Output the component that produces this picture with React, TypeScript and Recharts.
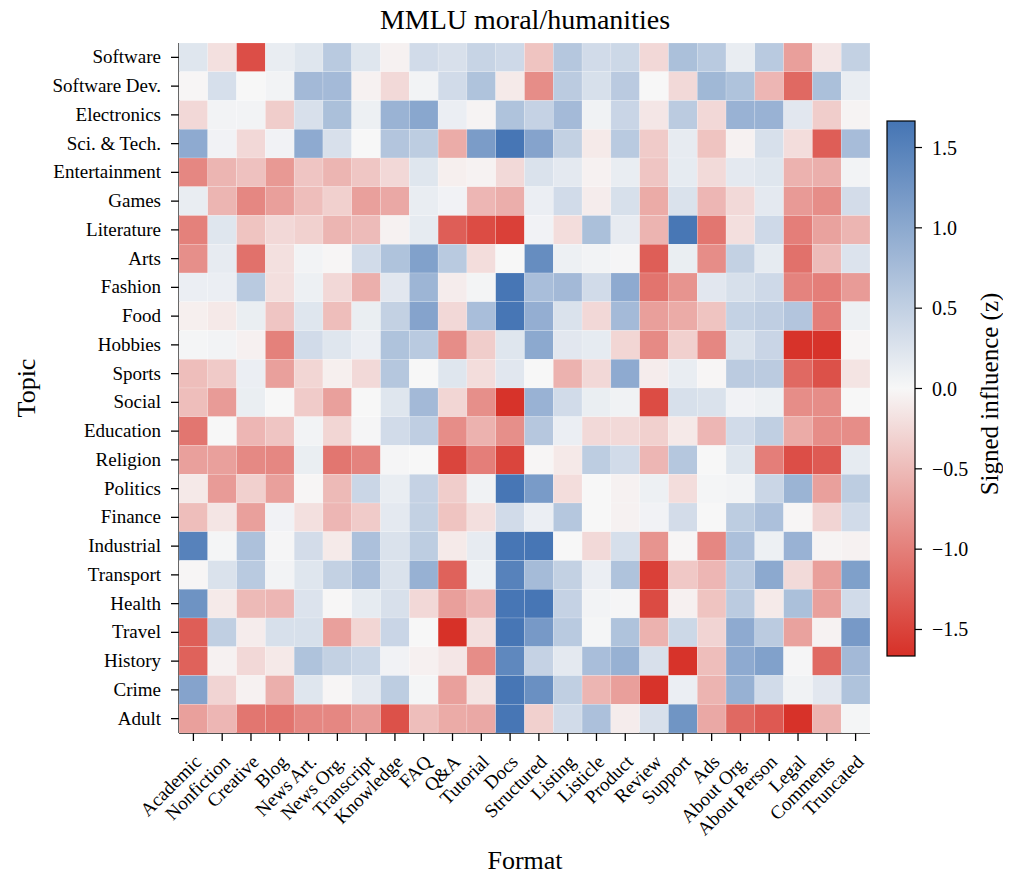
import { ScatterChart, Scatter, XAxis, YAxis } from "recharts";

const formats = [
  "Academic", "Nonfiction", "Creative", "Blog", "News Art.", "News Org.",
  "Transcript", "Knowledge", "FAQ", "Q&A", "Tutorial", "Docs", "Structured",
  "Listing", "Listicle", "Product", "Review", "Support", "Ads", "About Org.",
  "About Person", "Legal", "Comments", "Truncated",
];

const topics = [
  "Software", "Software Dev.", "Electronics", "Sci. & Tech.", "Entertainment",
  "Games", "Literature", "Arts", "Fashion", "Food", "Hobbies", "Sports",
  "Social", "Education", "Religion", "Politics", "Finance", "Industrial",
  "Transport", "Health", "Travel", "History", "Crime", "Adult",
];

// signed influence (z), one array per topic, in the order of `formats`
const software = [0.22, -0.19, -1.41, 0.13, 0.22, 0.58, 0.22, -0.05, 0.36, 0.29, 0.45, 0.38, -0.43, 0.62, 0.36, 0.4, -0.26, 0.71, 0.58, 0.13, 0.58, -0.74, -0.14, 0.49];
const softwareDev = [-0.02, 0.31, 0.0, 0.05, 0.79, 0.78, -0.05, -0.25, 0.05, 0.36, 0.67, -0.11, -0.89, 0.56, 0.3, 0.57, 0.0, -0.25, 0.81, 0.67, -0.54, -1.19, 0.71, 0.13];
const electronics = [-0.26, 0.05, 0.05, -0.35, 0.29, 0.71, 0.09, 0.87, 1.03, 0.11, -0.03, 0.67, 0.47, 0.78, 0.07, 0.43, -0.14, 0.56, -0.26, 0.88, 0.88, 0.2, -0.35, -0.03];
const sciTech = [0.98, 0.06, -0.26, 0.06, 0.98, 0.29, 0.0, 0.64, 0.54, -0.63, 1.16, 1.65, 1.07, 0.49, -0.11, 0.58, -0.37, 0.15, -0.43, -0.05, 0.3, -0.22, -1.28, 0.75];
const entertainment = [-0.94, -0.55, -0.45, -0.79, -0.42, -0.55, -0.41, -0.26, 0.22, -0.07, -0.04, -0.25, 0.27, 0.18, -0.05, 0.13, -0.42, 0.16, -0.24, 0.18, 0.22, -0.58, -0.6, 0.05];
const games = [0.13, -0.55, -0.94, -0.74, -0.48, -0.33, -0.73, -0.66, 0.13, 0.06, -0.54, -0.61, 0.11, 0.36, -0.09, 0.3, -0.64, 0.27, -0.54, -0.25, 0.18, -0.78, -0.89, 0.34];
const literature = [-0.99, 0.22, -0.43, -0.26, -0.32, -0.55, -0.5, -0.05, 0.16, -1.28, -1.43, -1.53, 0.06, -0.22, 0.71, 0.15, -0.56, 1.64, -1.08, -0.2, 0.38, -1.01, -0.71, -0.55];
const arts = [-0.87, 0.15, -1.12, -0.19, 0.05, -0.02, 0.36, 0.67, 1.1, 0.58, -0.22, 0.0, 1.36, 0.09, 0.05, 0.02, -1.28, 0.12, -0.89, 0.49, 0.16, -1.12, -0.5, 0.25];
const fashion = [0.11, 0.11, 0.58, -0.2, 0.09, -0.26, -0.6, 0.2, 0.84, -0.09, 0.04, 1.65, 0.73, 0.79, 0.36, 0.98, -1.1, -0.83, 0.2, 0.3, 0.38, -0.97, -1.01, -0.77];
const food = [-0.07, -0.12, 0.12, -0.42, 0.22, -0.48, 0.12, 0.49, 1.07, -0.26, 0.73, 1.65, 0.93, 0.27, -0.26, 0.78, -0.74, -0.64, -0.43, 0.48, 0.52, 0.64, -1.01, 0.09];
const hobbies = [0.03, 0.05, -0.06, -0.99, 0.36, 0.22, 0.11, 0.67, 0.58, -0.89, -0.35, 0.22, 1.0, 0.2, 0.16, -0.28, -0.91, -0.33, -0.94, 0.27, 0.43, -1.64, -1.64, -0.02];
const sports = [-0.48, -0.38, 0.11, -0.73, -0.28, -0.07, -0.25, 0.62, 0.0, 0.22, -0.22, 0.21, 0.0, -0.58, -0.26, 0.98, -0.09, 0.13, -0.02, 0.56, 0.56, -1.19, -1.39, -0.16];
const social = [-0.48, -0.77, 0.12, 0.0, -0.37, -0.73, 0.0, 0.22, 0.79, -0.28, -0.87, -1.64, 0.88, 0.36, 0.12, 0.07, -1.43, 0.3, 0.27, 0.06, 0.09, -0.89, -0.89, 0.0];
const education = [-1.08, 0.0, -0.54, -0.42, 0.05, -0.28, 0.02, 0.36, 0.52, -0.89, -0.58, -0.87, 0.61, 0.11, -0.25, -0.25, -0.33, -0.12, -0.54, 0.36, 0.51, -0.64, -0.89, -0.89];
const religion = [-0.73, -0.73, -0.92, -0.94, 0.12, -1.08, -0.97, 0.02, 0.0, -1.49, -1.01, -1.49, -0.02, -0.12, 0.54, 0.36, -0.54, 0.62, 0.0, 0.22, -1.01, -1.41, -1.31, 0.16];
const politics = [-0.12, -0.77, -0.33, -0.73, -0.02, -0.51, 0.42, 0.13, 0.47, -0.35, 0.07, 1.65, 1.18, -0.22, 0.0, -0.05, 0.09, -0.22, 0.03, 0.05, 0.42, 0.86, -0.73, 0.54];
const finance = [-0.48, -0.15, -0.73, 0.06, -0.19, -0.54, -0.37, 0.18, 0.49, -0.43, -0.2, 0.36, 0.11, 0.62, 0.0, -0.05, 0.06, 0.34, 0.0, 0.54, 0.7, -0.02, -0.29, 0.36];
const industrial = [1.5, 0.03, 0.69, 0.02, 0.34, -0.11, 0.7, 0.27, 0.54, -0.11, 0.15, 1.65, 1.65, 0.0, -0.25, 0.31, -0.83, -0.02, -0.94, 0.7, 0.09, 0.88, -0.03, -0.05];
const transport = [-0.02, 0.27, 0.58, 0.05, 0.22, 0.49, 0.73, 0.27, 0.9, -1.25, 0.08, 1.5, 0.77, 0.49, 0.11, 0.67, -1.53, -0.39, -0.54, 0.56, 1.0, -0.24, -0.74, 1.12];
const health = [1.28, -0.11, -0.51, -0.54, 0.25, -0.01, 0.16, 0.29, -0.26, -0.74, -0.54, 1.65, 1.65, 0.47, 0.05, 0.02, -1.44, -0.06, -0.43, 0.56, -0.11, 0.71, -0.73, 0.36];
const travel = [-1.28, 0.51, -0.09, 0.3, 0.3, -0.73, -0.28, 0.43, 0.0, -1.66, -0.2, 1.65, 1.2, 0.58, 0.03, 0.67, -0.58, 0.4, -0.29, 0.98, 0.56, -0.71, -0.04, 1.2];
const history = [-1.25, -0.05, -0.26, -0.12, 0.67, 0.49, 0.41, 0.06, -0.06, -0.14, -0.89, 1.42, 0.47, 0.18, 0.73, 0.9, 0.29, -1.64, -0.48, 0.98, 1.1, 0.02, -1.19, 0.79];
const crime = [1.07, -0.29, -0.05, -0.6, 0.22, -0.02, 0.18, 0.54, 0.03, -0.73, -0.16, 1.65, 1.32, 0.51, -0.55, -0.74, -1.64, 0.11, -0.56, 0.9, 0.36, 0.07, 0.2, 0.67];
const adult = [-0.73, -0.54, -1.08, -1.1, -0.94, -0.94, -0.77, -1.39, -0.48, -0.64, -0.66, 1.65, -0.33, 0.36, 0.7, -0.09, 0.29, 1.26, -0.66, -1.19, -1.32, -1.65, -0.56, 0.03];

const rows = [
  software, softwareDev, electronics, sciTech, entertainment, games,
  literature, arts, fashion, food, hobbies, sports, social, education,
  religion, politics, finance, industrial, transport, health, travel,
  history, crime, adult,
];

const colorbarTicks = [-1.5, -1.0, -0.5, 0.0, 0.5, 1.0, 1.5];

const V_MAX = 1.665;
const LOW = [215, 48, 39];
const MID = [247, 247, 247];
const HIGH = [69, 117, 180];

const FONT = "'Liberation Serif', 'Times New Roman', serif";
const W = 995;
const H = 864;
const M = { top: 35, right: 133, bottom: 0, left: 0 };
const Y_AXIS_W = 171;
const X_AXIS_H = 139;
const PLOT_W = W - M.left - M.right - Y_AXIS_W;
const PLOT_H = H - M.top - M.bottom - X_AXIS_H;
const CELL_W = PLOT_W / formats.length;
const CELL_H = PLOT_H / topics.length;

function colorFor(v: number) {
  const k = Math.min(1, Math.abs(v) / V_MAX);
  const end = v < 0 ? LOW : HIGH;
  const c = MID.map((m, i) => Math.round(m + (end[i] - m) * k));
  return `rgb(${c.join(",")})`;
}

const cells = rows.flatMap((r, i) =>
  r.map((v, j) => ({ x: j + 0.5, y: i + 0.5, v, topic: topics[i], format: formats[j] }))
);

const centers = (n: number) => Array.from({ length: n }, (_, i) => i + 0.5);

const fmtMinus = (v: number) => (v < 0 ? "\u2212" + Math.abs(v).toFixed(1) : v.toFixed(1));

function HeatCell(props: any) {
  const { cx, cy, payload } = props;
  return (
    <rect
      x={cx - CELL_W / 2}
      y={cy - CELL_H / 2}
      width={CELL_W}
      height={CELL_H}
      fill={colorFor(payload.v)}
      stroke="#ffffff"
      strokeOpacity={0.35}
      strokeWidth={0.5}
    />
  );
}

function XTick(props: any) {
  const { x, y, payload } = props;
  return (
    <text
      transform={`translate(${x + 9},${y + 20}) rotate(-45)`}
      textAnchor="end"
      fontSize={19}
      fontFamily={FONT}
      fill="#000"
    >
      {formats[Math.floor(payload.value)]}
    </text>
  );
}

function YTick(props: any) {
  const { x, y, payload } = props;
  return (
    <text x={x - 8} y={y} dy={6} textAnchor="end" fontSize={19} fontFamily={FONT} fill="#000">
      {topics[Math.floor(payload.value)]}
    </text>
  );
}

function Overlay() {
  const x0 = 879;
  const y0 = 113;
  const w = 28;
  const h = 535;
  const yOf = (v: number) => y0 + ((V_MAX - v) / (2 * V_MAX)) * h;
  return (
    <svg
      width={W}
      height={H}
      style={{ position: "absolute", left: 0, top: 0, pointerEvents: "none", overflow: "visible" }}
    >
      <defs>
        <linearGradient id="cbar" x1="0" y1="0" x2="0" y2="1">
          <stop offset="0%" stopColor={`rgb(${HIGH.join(",")})`} />
          <stop offset="50%" stopColor={`rgb(${MID.join(",")})`} />
          <stop offset="100%" stopColor={`rgb(${LOW.join(",")})`} />
        </linearGradient>
      </defs>
      <text x={517} y={21} textAnchor="middle" fontSize={28} fontFamily={FONT} fill="#000">
        MMLU moral/humanities
      </text>
      <text x={517} y={861} textAnchor="middle" fontSize={26} fontFamily={FONT} fill="#000">
        Format
      </text>
      <text
        transform={`translate(27,380) rotate(-90)`}
        textAnchor="middle"
        fontSize={26}
        fontFamily={FONT}
        fill="#000"
      >
        Topic
      </text>
      <rect x={x0} y={y0} width={w} height={h} fill="url(#cbar)" stroke="#000" strokeWidth={1.2} />
      {colorbarTicks.map((t) => (
        <g key={t}>
          <line x1={x0 + w} x2={x0 + w + 7} y1={yOf(t)} y2={yOf(t)} stroke="#000" strokeWidth={1.2} />
          <text x={x0 + w + 17} y={yOf(t)} dy={7} fontSize={20} fontFamily={FONT} fill="#000">
            {fmtMinus(t)}
          </text>
        </g>
      ))}
      <text
        transform={`translate(990,386) rotate(-90)`}
        textAnchor="middle"
        fontSize={25}
        fontFamily={FONT}
        fill="#000"
      >
        Signed influence (z)
      </text>
    </svg>
  );
}

export default function App() {
  return (
    <div style={{ position: "relative", width: W, height: H }}>
      <ScatterChart width={W} height={H} margin={M}>
        <XAxis
          type="number"
          dataKey="x"
          domain={[0, formats.length]}
          ticks={centers(formats.length)}
          interval={0}
          tick={<XTick />}
          tickSize={8}
          height={X_AXIS_H}
          axisLine={{ stroke: "#000", strokeWidth: 1.3 }}
          tickLine={{ stroke: "#000", strokeWidth: 1.3 }}
        />
        <YAxis
          type="number"
          dataKey="y"
          domain={[0, topics.length]}
          reversed
          ticks={centers(topics.length)}
          interval={0}
          tick={<YTick />}
          tickSize={8}
          width={Y_AXIS_W}
          axisLine={{ stroke: "#000", strokeWidth: 1.3 }}
          tickLine={{ stroke: "#000", strokeWidth: 1.3 }}
        />
        <Scatter data={cells} shape={<HeatCell />} isAnimationActive={false} />
      </ScatterChart>
      <Overlay />
    </div>
  );
}
